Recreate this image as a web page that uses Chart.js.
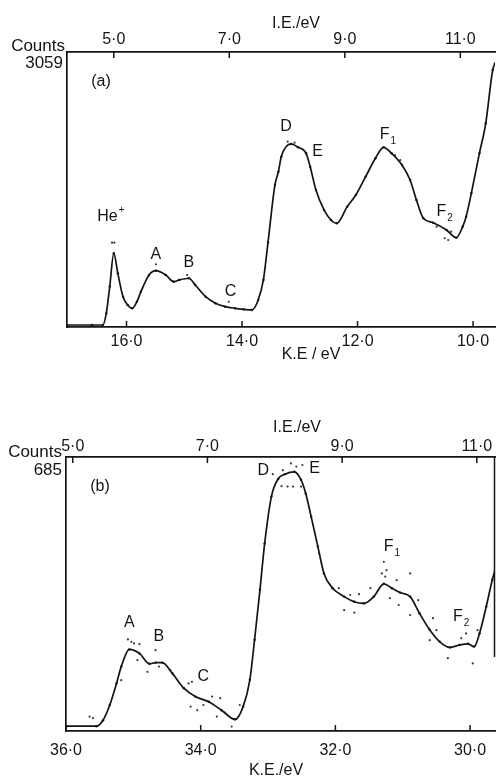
<!DOCTYPE html>
<html>
<head>
<meta charset="utf-8">
<script src="https://cdn.jsdelivr.net/npm/chart.js@4.4.1/dist/chart.umd.min.js"></script>
<style>
  html, body { margin: 0; background: #fff; }
  #page { position: relative; width: 499px; height: 778px; overflow: hidden; }
  .panel { position: absolute; left: 0; width: 499px; }
  #boxA { top: 0; height: 370px; }
  #boxB { top: 370px; height: 408px; }
</style>
</head>
<body>
<div id="page">
  <div class="panel" id="boxA"><canvas id="specA"></canvas></div>
  <div class="panel" id="boxB"><canvas id="specB"></canvas></div>
</div>
<script>
// (a) He I spectrum: smoothed curve, kinetic energy (eV) vs counts
const keA = [17.03, 16.60, 16.41, 16.35, 16.29, 16.22, 16.15, 16.06, 15.98, 15.90,
  15.82, 15.75, 15.61, 15.49, 15.32, 15.18, 15.09, 14.92, 14.81, 14.63,
  14.46, 14.29, 14.12, 13.97, 13.83, 13.72, 13.63, 13.55, 13.43, 13.37,
  13.32, 13.15, 13.03, 12.89, 12.82, 12.72, 12.58, 12.46, 12.36, 12.18,
  12.03, 11.86, 11.69, 11.55, 11.41, 11.23, 11.09, 10.98, 10.86, 10.69,
  10.46, 10.29, 10.18, 10.12, 10.03, 9.89, 9.78, 9.66, 9.62];
const countsA = [22, 22, 22, 152, 450, 820, 597, 337, 245, 208,
  281, 393, 578, 626, 578, 504, 523, 542, 467, 337,
  264, 226, 208, 197, 189, 300, 523, 940, 1580, 1728,
  1894, 2036, 1999, 1932, 1783, 1524, 1302, 1190, 1154, 1338,
  1468, 1672, 1877, 1999, 1932, 1802, 1635, 1413, 1209, 1160,
  1079, 993, 1116, 1227, 1487, 1932, 2266, 2859, 2933];
// (a) raw points lying off the curve
const dotKeA = [16.25, 16.21, 15.49, 14.95, 14.23, 13.21, 13.09, 11.35, 11.26, 10.63, 10.49, 10.43, 10.38];
const dotCountsA = [938, 938, 697, 578, 281, 2061, 2050, 1913, 1857, 1116, 987, 968, 1060];

// (b) He II spectrum
const keB = [35.99, 35.55, 35.45, 35.35, 35.25, 35.18, 35.06, 34.91, 34.76, 34.67,
  34.57, 34.42, 34.25, 34.08, 33.88, 33.69, 33.49, 33.37, 33.27, 33.20,
  33.12, 33.05, 32.95, 32.85, 32.75, 32.61, 32.51, 32.44, 32.36, 32.26,
  32.17, 32.04, 31.87, 31.72, 31.58, 31.43, 31.28, 31.16, 31.04, 30.89,
  30.75, 30.60, 30.45, 30.30, 30.16, 30.03, 29.94, 29.86, 29.76, 29.67, 29.63];
const countsB = [12, 12, 27, 65, 119, 161, 204, 194, 168, 171,
  171, 144, 107, 86, 73, 52, 29, 61, 128, 228,
  353, 469, 586, 630, 642, 648, 628, 594, 536, 461,
  394, 357, 336, 323, 319, 336, 368, 357, 346, 336,
  294, 253, 223, 209, 215, 218, 211, 244, 311, 378, 402];
const dotKeB = [35.65, 35.60, 35.08, 35.03, 34.99, 34.91, 34.67, 35.18, 34.94, 34.79,
  34.62, 34.45, 34.18, 34.13, 34.15, 34.05, 33.96, 33.83, 33.71, 33.76,
  33.64, 33.54, 33.42, 32.93, 32.78, 32.66, 32.58, 32.49, 32.80, 32.71,
  32.63, 32.51, 32.24, 31.95, 31.87, 31.72, 31.78, 31.65, 31.48, 31.28,
  31.24, 31.31, 31.26, 31.09, 30.89, 31.19, 31.06, 30.89, 30.77, 30.55,
  30.50, 30.60, 30.33, 30.13, 30.06, 29.96, 29.89];
const dotCountsB = [36, 32, 229, 223, 219, 217, 202, 127, 177, 148,
  161, 152, 119, 123, 61, 52, 65, 86, 82, 36,
  46, 11, 65, 642, 652, 669, 661, 665, 612, 611,
  611, 611, 444, 357, 302, 296, 340, 342, 357, 423,
  402, 394, 386, 377, 394, 332, 315, 290, 327, 282,
  252, 227, 182, 232, 244, 169, 252];

// tick values
const keTicksA = [16, 14, 12, 10];
const keTicksB = [36, 34, 32, 30];
const ieTicks = [5, 7, 9, 11];

// photon energies used for I.E. = hv - K.E.
const hvA = 21.22;
const hvB = 40.9;

// band labels, placed at (K.E., counts)
const bandsA = [
  { t: 'He', sup: '+', ke: 16.33, c: 1224 },
  { t: 'A', ke: 15.49, c: 801 },
  { t: 'B', ke: 14.92, c: 712 },
  { t: 'C', ke: 14.20, c: 389 },
  { t: 'D', ke: 13.24, c: 2225 },
  { t: 'E', ke: 12.69, c: 1947 },
  { t: 'F', sub: '1', ke: 11.53, c: 2136 },
  { t: 'F', sub: '2', ke: 10.55, c: 1279 }
];
const bandsB = [
  { t: 'A', ke: 35.06, c: 270 },
  { t: 'B', ke: 34.62, c: 237 },
  { t: 'C', ke: 33.96, c: 135 },
  { t: 'D', ke: 33.07, c: 652 },
  { t: 'E', ke: 32.31, c: 655 },
  { t: 'F', sub: '1', ke: 31.21, c: 460 },
  { t: 'F', sub: '2', ke: 30.18, c: 285 }
];

const ink = '#141414';
const FONT = "'Liberation Sans', Arial, sans-serif";

const tickText = (v) => Number(v).toFixed(1).replace('.', '\u00B7');

// inward tick marks, corner captions and band letters
const frameMarks = {
  id: 'frameMarks',
  afterDraw(chart, args, o) {
    const { ctx, chartArea: a, scales } = chart;
    ctx.save();
    ctx.strokeStyle = ink;
    ctx.lineWidth = 1.5;
    ctx.beginPath();
    scales.x.ticks.forEach((t) => {
      const px = scales.x.getPixelForValue(t.value);
      ctx.moveTo(px, a.bottom);
      ctx.lineTo(px, a.bottom - 6);
    });
    scales.x2.ticks.forEach((t) => {
      const px = scales.x2.getPixelForValue(t.value);
      ctx.moveTo(px, a.top);
      ctx.lineTo(px, a.top + 6);
    });
    if (o.rightEdge) {
      ctx.moveTo(a.right - 0.5, a.top);
      ctx.lineTo(a.right - 0.5, scales.y.getPixelForValue(o.rightEdge));
    }
    ctx.stroke();

    ctx.fillStyle = ink;
    ctx.font = `17px ${FONT}`;
    ctx.textAlign = 'right';
    ctx.textBaseline = 'alphabetic';
    ctx.fillText('Counts', a.left - o.countsDx, a.top - o.countsDy);
    ctx.fillText(String(o.maxCounts), a.left - 4, a.top + o.maxDy);

    ctx.textAlign = 'center';
    ctx.font = `16px ${FONT}`;
    ctx.fillText('I.E./eV', o.ieX, a.top - o.ieDy);
    ctx.fillText(o.keTitle, o.keX, a.bottom + o.keDy);
    ctx.fillText(o.tag, a.left + 34, a.top + 34);

    ctx.textBaseline = 'middle';
    o.bands.forEach((b) => {
      const x = scales.x.getPixelForValue(b.ke);
      const y = scales.y.getPixelForValue(b.c);
      ctx.font = `16px ${FONT}`;
      ctx.textAlign = 'center';
      ctx.fillText(b.t, x, y);
      const w = ctx.measureText(b.t).width;
      ctx.font = `10px ${FONT}`;
      ctx.textAlign = 'left';
      if (b.sub) ctx.fillText(b.sub, x + w / 2 + 1, y + 6);
      if (b.sup) ctx.fillText(b.sup, x + w / 2 + 1, y - 7);
    });
    ctx.restore();
  }
};

function buildPanel(canvas, p) {
  const curve = p.ke.map((k, i) => ({ x: k, y: p.counts[i] }));
  const dots = p.dotKe.map((k, i) => ({ x: k, y: p.dotCounts[i] }));
  const keMin = p.keMin, keMax = p.keMax;
  return new Chart(canvas, {
    type: 'line',
    data: {
      datasets: [
        {
          data: curve,
          borderColor: ink,
          borderWidth: 1.7,
          pointRadius: 1.2,
          pointBackgroundColor: ink,
          pointBorderWidth: 0,
          cubicInterpolationMode: 'monotone',
          xAxisID: 'x',
          yAxisID: 'y'
        },
        {
          type: 'scatter',
          data: dots,
          pointRadius: 1.1,
          pointBackgroundColor: '#3a3a3a',
          pointBorderWidth: 0,
          showLine: false,
          xAxisID: 'x',
          yAxisID: 'y'
        }
      ]
    },
    options: {
      responsive: true,
      maintainAspectRatio: false,
      animation: false,
      layout: { padding: { left: 0, top: 0, bottom: 0, right: p.padRight } },
      plugins: {
        legend: { display: false },
        tooltip: { enabled: false },
        frameMarks: p.marks
      },
      scales: {
        x: {
          type: 'linear',
          position: 'bottom',
          reverse: true,
          min: keMin,
          max: keMax,
          afterBuildTicks: (s) => { s.ticks = p.keTicks.map((v) => ({ value: v })); },
          afterFit: (s) => { s.height = p.bottomH; },
          grid: { display: false, drawTicks: false },
          border: { display: true, color: ink, width: 1.7 },
          ticks: {
            autoSkip: false, maxRotation: 0, padding: p.bottomPad,
            color: ink, font: { family: FONT, size: 16 },
            callback: tickText
          }
        },
        x2: {
          type: 'linear',
          position: 'top',
          min: p.hv - keMax,
          max: p.hv - keMin,
          afterBuildTicks: (s) => { s.ticks = ieTicks.map((v) => ({ value: v })); },
          afterFit: (s) => { s.height = p.topH; },
          grid: { display: false, drawTicks: false },
          border: { display: true, color: ink, width: 1.7 },
          ticks: {
            autoSkip: false, maxRotation: 0, padding: p.topPad,
            color: ink, font: { family: FONT, size: 16 },
            callback: tickText
          }
        },
        y: {
          type: 'linear',
          position: 'left',
          min: 0,
          max: p.maxCounts,
          afterFit: (s) => { s.width = p.leftW; },
          grid: { display: false, drawTicks: false },
          border: { display: true, color: ink, width: 1.7 },
          ticks: { display: false }
        }
      }
    },
    plugins: [frameMarks]
  });
}

buildPanel(document.getElementById('specA'), {
  ke: keA, counts: countsA, dotKe: dotKeA, dotCounts: dotCountsA,
  keTicks: keTicksA, keMin: 9.62, keMax: 17.03, hv: hvA, maxCounts: 3059,
  leftW: 67, topH: 52, bottomH: 43, padRight: 0, topPad: 3, bottomPad: 5,
  marks: {
    maxCounts: 3059, countsDx: 2, countsDy: 1, maxDy: 16,
    ieX: 296, ieDy: 24, keTitle: 'K.E / eV', keX: 311, keDy: 32,
    tag: '(a)', bands: bandsA, rightEdge: 0
  }
});

buildPanel(document.getElementById('specB'), {
  ke: keB, counts: countsB, dotKe: dotKeB, dotCounts: dotCountsB,
  keTicks: keTicksB, keMin: 29.63, keMax: 36.0, hv: hvB, maxCounts: 685,
  leftW: 66, topH: 87, bottomH: 47, padRight: 1, topPad: 1, bottomPad: 10,
  marks: {
    maxCounts: 685, countsDx: 4, countsDy: 0, maxDy: 18,
    ieX: 297, ieDy: 25, keTitle: 'K.E./eV', keX: 276, keDy: 44,
    tag: '(b)', bands: bandsB, rightEdge: 185
  }
});
</script>
</body>
</html>
